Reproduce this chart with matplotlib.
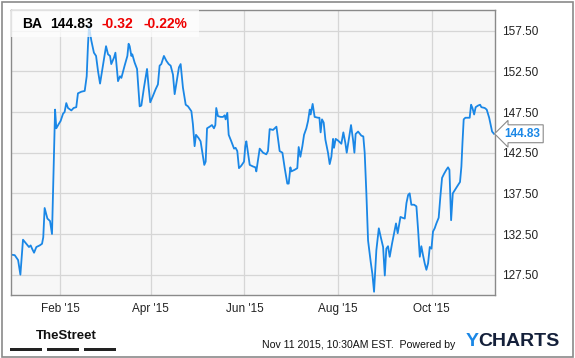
import matplotlib
matplotlib.use("Agg")
import matplotlib.pyplot as plt
import matplotlib.dates as mdates
from matplotlib.patches import Rectangle
import matplotlib.transforms as mtransforms
import pandas as pd

# BA closing prices, x = days after Jan 1 2015
days = [
    -1.3, 1.3, 3.5, 5.0, 6.7, 8.9, 10.6, 11.7, 12.6, 13.9, 15.4, 17.6, 19.1, 19.9,
    20.8, 22.6, 24.3, 25.6, 27.6, 28.4, 29.9, 31.2, 32.8, 33.8, 34.9, 36.0, 38.2,
    39.7, 41.4, 42.5, 44.7, 46.9, 48.2, 49.0, 49.7, 51.2, 52.9, 54.3, 55.6, 56.9,
    58.8, 60.8, 62.1, 63.4, 64.2, 66.0, 66.9, 68.6, 69.9, 70.8, 72.9, 74.7, 75.5,
    76.2, 77.3, 77.9, 79.4, 81.0, 82.7, 83.8, 85.5, 87.5, 88.6, 89.6, 91.4, 93.1,
    94.6, 95.7, 96.8, 98.5, 100.1, 101.6, 102.9, 104.4, 105.5, 107.2, 108.3, 109.4,
    110.9, 112.7, 114.2, 116.4, 117.4, 118.5, 119.4, 121.1, 122.4, 124.0, 124.8,
    125.7, 126.6, 128.3, 129.8, 131.1, 132.0, 132.6, 133.7, 135.5, 137.0, 138.1,
    138.7, 139.8, 140.7, 142.4, 144.2, 145.2, 146.3, 147.4, 148.9, 150.7, 151.5,
    152.2,
    154.4, 156.6, 158.1, 158.7, 160.9, 163.1, 165.2, 166.3, 167.4, 169.6, 171.8,
    173.9, 175.7, 177.2, 178.9, 179.8, 180.9, 181.5, 183.7, 185.4, 186.3, 187.4,
    188.7, 189.8, 191.3, 192.4, 193.5, 194.1, 195.4, 196.7, 198.9, 199.8, 200.6,
    201.5, 202.6, 203.7, 205.4, 206.5, 207.6, 208.7, 209.3, 210.4, 211.9, 214.1,
    215.4, 216.7, 217.6, 218.9, 220.4, 221.7, 222.6, 223.4, 225.0, 227.1, 228.4,
    229.3, 230.4, 231.5,
    233.2, 234.3, 235.4, 236.9, 238.5, 239.8, 241.3, 242.4, 243.4, 244.5, 245.6,
    247.1, 248.9, 249.7, 250.8, 252.6, 253.9, 255.4, 256.5, 257.6, 258.6, 259.7,
    261.5, 263.0, 264.1, 265.2, 266.2, 267.3, 268.4, 269.5, 270.6, 271.7, 272.8,
    273.8, 274.9, 276.0, 277.5, 278.6, 279.7, 281.0, 282.5, 283.6, 284.5, 285.6,
    286.7, 288.0, 289.7, 291.4, 292.3, 293.0, 293.8, 294.9, 296.6, 297.7, 298.6,
    299.5, 300.6, 301.6, 303.2, 304.5, 305.3, 307.5, 308.8, 310.4, 312.3, 313.5,
]
prices = [
    129.97, 129.9, 129.3, 127.5, 131.8, 131.3, 130.9, 131.1, 130.7, 130.2, 130.9,
    131.1, 131.3, 132.1, 135.7, 134.4, 134.1, 132.5, 147.8, 145.5, 146.0, 146.4,
    147.3, 147.5, 148.6, 148.0, 147.7, 148.0, 148.1, 149.8, 150.0, 150.1, 151.9,
    155.6, 158.1, 156.3, 154.8, 154.4, 152.5, 151.0, 153.2, 155.6, 154.6, 154.4,
    153.4, 154.2, 154.8, 151.3, 151.9, 151.7, 153.2, 154.4, 155.9,
    155.6, 154.4, 154.6, 153.6, 152.8, 148.2, 148.3, 150.5, 152.8, 150.5, 148.7,
    149.5, 150.3, 150.9, 153.2, 153.4, 154.4, 153.8, 153.4, 153.2, 152.1, 149.7,
    151.7, 153.0, 153.4, 150.5, 148.4, 148.2, 147.6, 146.0, 143.3, 144.7, 144.3,
    143.9, 142.0, 141.0, 141.4, 145.5, 145.7, 145.9, 145.5, 145.9, 148.0, 147.0,
    146.9, 146.9, 147.1, 146.6, 147.4, 144.7, 143.9, 143.0, 143.1, 142.7, 140.6,
    140.9, 141.4, 143.3, 143.9,
    141.0, 140.8, 140.7, 140.2, 143.0, 142.5, 142.3, 142.7, 145.4, 145.3, 145.7,
    142.7, 142.5, 140.6, 138.7, 138.7, 140.7, 140.2, 140.4, 140.6, 143.2, 142.0,
    143.3, 144.7, 145.5, 146.4, 147.8, 147.2, 148.5, 146.9, 146.8, 146.8, 145.0,
    146.6, 146.2, 144.1, 142.5, 141.1, 142.0, 144.2, 143.1, 144.2, 144.0, 143.6,
    145.0, 143.7, 142.5, 144.1, 145.9, 144.1, 142.5, 144.8, 145.1, 144.6, 144.5,
    142.5, 137.5, 131.7,
    129.1, 127.6, 125.4, 130.5, 133.2, 132.1, 130.9, 127.4, 130.7, 131.0, 129.7,
    131.3, 133.0, 133.8, 132.6, 134.6, 134.5, 134.4, 136.3, 137.3, 137.5, 136.1,
    136.1, 135.9, 133.0, 129.7, 131.0, 129.9, 128.9, 128.1, 128.9, 130.9, 130.7,
    132.8, 133.2, 133.8, 134.5, 137.1, 139.4, 139.9, 140.4, 140.7, 140.4, 134.2,
    137.5, 137.9, 138.4, 138.9, 140.8, 143.7, 146.6, 146.8, 146.8, 146.8, 148.4,
    148.0, 147.2, 148.1, 148.3, 148.4, 148.1, 148.0, 147.8, 146.8, 145.1, 144.83,
]
yticks = [127.5, 132.5, 137.5, 142.5, 147.5, 152.5, 157.5]
ticker = "BA"
last_price = 144.83
change = "-0.32"
change_pct = "-0.22%"

plt.rcParams['font.family'] = ['Liberation Sans', 'DejaVu Sans']

base = pd.Timestamp("2015-01-01")
dates = base + pd.to_timedelta(days, unit="D")

W, H = 575, 358
fig = plt.figure(figsize=(W / 100, H / 100), dpi=100)
fig.patch.set_facecolor("white")
left, right, top, bottom = 10.5, 494.7, 10, 295
ax = fig.add_axes([left / W, 1 - bottom / H, (right - left) / W, (bottom - top) / H])
ax.set_facecolor("#f7f7f7")

line_color = "#1a87e6"
ax.plot(dates, prices, color=line_color, lw=1.3, solid_joinstyle="round")

ax.set_xlim(base - pd.Timedelta(days=1.44), base + pd.Timedelta(days=314.0))
ax.set_ylim(125.0, 160.05)

ax.xaxis.set_major_locator(mdates.MonthLocator(bymonth=[2, 4, 6, 8, 10]))
ax.xaxis.set_major_formatter(mdates.DateFormatter("%b '%y"))
ax.set_yticks(yticks)
ax.set_yticklabels([f"{v:.2f}" for v in yticks])
ax.yaxis.tick_right()
ax.tick_params(axis="both", length=0, labelsize=8.5, colors="#222222")
ax.tick_params(axis="y", pad=5)
ax.tick_params(axis="x", pad=6)

ax.grid(True, color="#d6d6d6", lw=0.9)
ax.set_axisbelow(True)
for s in ax.spines.values():
    s.set_color("#8a8a8a")
    s.set_linewidth(1.0)

# translucent box under the quote header
ax.add_patch(Rectangle((0, 1 - 27 / (bottom - top)), 188 / (right - left), 27 / (bottom - top),
                       transform=ax.transAxes, facecolor="white", alpha=0.75,
                       edgecolor="none", zorder=3))

hy = 1 - 23.5 / H
fig.text(21.7 / W, hy, ticker, fontsize=10, fontweight="bold", color="black", va="center")
fig.text(50 / W, hy, f"{last_price:.2f}", fontsize=10, fontweight="bold", color="black", va="center")
fig.text(101.7 / W, hy, change, fontsize=10, fontweight="bold", color="#ee0000", va="center")
fig.text(143.3 / W, hy, change_pct, fontsize=10, fontweight="bold", color="#ee0000", va="center")

# last price flag on the right axis
trans = mtransforms.blended_transform_factory(ax.transAxes, ax.transData)
ax.text(1.02, last_price, f"{last_price:.2f}", transform=trans, fontsize=8.5,
        fontweight="bold", color=line_color, va="center", ha="left", zorder=5,
        clip_on=False,
        bbox=dict(boxstyle="larrow,pad=0.25", facecolor="white", edgecolor="#8a8a8a", lw=0.8))

# footer
fig.text(36 / W, 1 - 336 / H, "TheStreet", fontsize=9.5, fontweight="bold",
         color="#111111", va="center")
for x0, x1 in [(10, 42), (47, 79), (84, 116)]:
    fig.patches.append(Rectangle((x0 / W, 1 - 350.7 / H), (x1 - x0) / W, 3 / H,
                                 transform=fig.transFigure, facecolor="#222222",
                                 edgecolor="none"))
fig.text(262 / W, 1 - 345 / H, "Nov 11 2015, 10:30AM EST.  Powered by", fontsize=7.6,
         color="#111111", va="center")
fig.text(466 / W, 1 - 342 / H, "Y", fontsize=14, fontweight="bold", color=line_color, va="center")
fig.text(478 / W, 1 - 342 / H, "CHARTS", fontsize=14, fontweight="bold", color="#14203a", va="center")

# outer frame
fig.patches.append(Rectangle((1.5 / W, 1.5 / H), (W - 4) / W, (H - 3) / H,
                             transform=fig.transFigure, facecolor="none",
                             edgecolor="#8a8a8a", lw=1.2))

fig.savefig("out.png", dpi=100)
